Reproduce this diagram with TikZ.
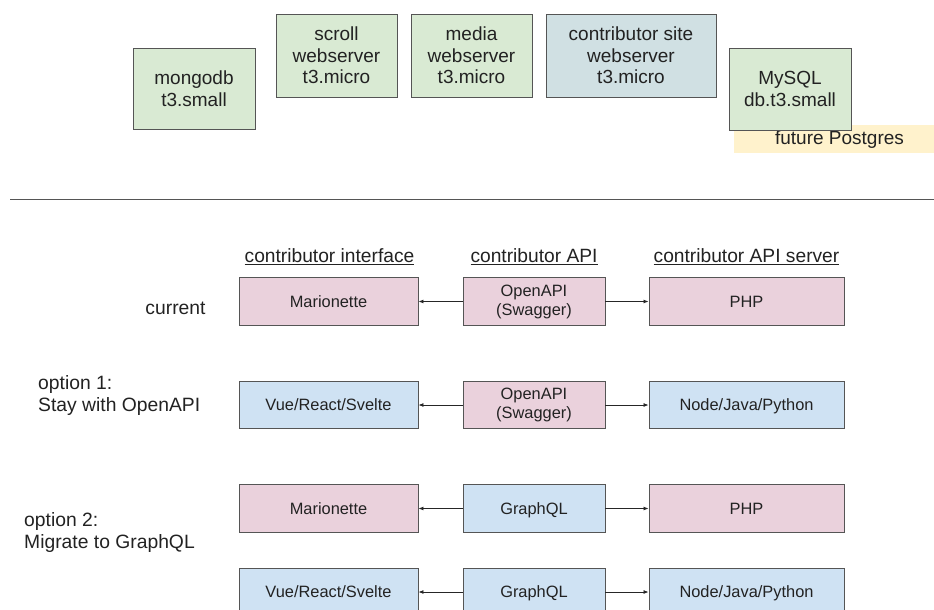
\documentclass[tikz,border=0pt]{standalone}
\usepackage{fontspec}
\setmainfont{Liberation Sans}
\usetikzlibrary{arrows.meta}
\definecolor{gfill}{HTML}{D9EAD3}
\definecolor{pfill}{HTML}{EAD1DC}
\definecolor{bfill}{HTML}{CFE2F3}
\definecolor{cfill}{HTML}{D0E0E3}
\definecolor{yfill}{HTML}{FFF2CC}
\definecolor{edge}{HTML}{555555}
\definecolor{txt}{HTML}{222222}
\tikzset{
  topbox/.style={draw=edge, line width=0.9pt, align=center, inner sep=0pt,
    font=\fontsize{19}{21.5}\selectfont, text=txt},
  lowbox/.style={draw=edge, line width=0.9pt, align=center, inner sep=0pt,
    minimum height=47.5pt, font=\fontsize{16.4}{19}\selectfont, text=txt},
  one/.style={text height=11.7pt, text depth=0pt},
  ifc/.style={lowbox, minimum width=179pt},
  api/.style={lowbox, minimum width=142pt},
  srv/.style={lowbox, minimum width=195pt},
  hdr/.style={font=\fontsize{19.2}{21}\selectfont, text=txt, inner sep=0pt},
  lbl/.style={font=\fontsize{19.3}{22}\selectfont, text=txt, inner sep=0pt, align=left},
  conn/.style={draw=black!85, line width=0.8pt, -{Latex[length=5pt,width=4pt]}}
}
\begin{document}
\begin{tikzpicture}[x=1pt,y=-1pt]
\useasboundingbox (0,0) rectangle (934,610);
\clip (0,0) rectangle (934,610);
% top row
\node[topbox, fill=gfill, minimum width=122pt, minimum height=81pt] (mongo) at (194,88.5) {mongodb\\t3.small};
\node[topbox, fill=gfill, minimum width=121pt, minimum height=83pt] (scroll) at (336.5,55.5) {scroll\\webserver\\t3.micro};
\node[topbox, fill=gfill, minimum width=121pt, minimum height=83pt] (media) at (471.5,55.5) {media\\webserver\\t3.micro};
\node[topbox, fill=cfill, minimum width=170pt, minimum height=83pt] (site) at (631,55.5) {contributor site\\webserver\\t3.micro};
\node[fill=yfill, minimum width=200pt, minimum height=28pt, inner sep=0pt, anchor=north west] (pgbg) at (734,125) {};
\node[topbox, draw=none, anchor=center] (pgtxt) at (839.5,140) {future Postgres};
\node[topbox, fill=gfill, minimum width=122pt, minimum height=82pt] (mysql) at (790,89) {MySQL\\db.t3.small};
% separator
\coordinate (sepl) at (10,199);
\coordinate (sepr) at (934,199);
\draw[edge, line width=1pt] (sepl) -- (sepr);
% headers
\node[hdr] (h1) at (329.5,257) {\underline{contributor interface}};
\node[hdr] (h2) at (534,257) {\underline{contributor API}};
\node[hdr] (h3) at (746.5,257) {\underline{contributor API server}};
% labels
\node[lbl] (lcur) at (175.5,308) {current};
\node[lbl, anchor=west] (lo1) at (38,396) {option 1:\\Stay with OpenAPI};
\node[lbl, anchor=west] (lo2) at (24,533) {option 2:\\Migrate to GraphQL};
% row 1
\node[ifc, one, fill=pfill] (i1) at (328.5,301.5) {Marionette};
\node[api, fill=pfill] (a1) at (534,301.5) {OpenAPI\\(Swagger)};
\node[srv, one, fill=pfill] (s1) at (746.5,301.5) {PHP};
% row 2
\node[ifc, one, fill=bfill] (i2) at (328.5,405) {Vue/React/Svelte};
\node[api, fill=pfill] (a2) at (534,405) {OpenAPI\\(Swagger)};
\node[srv, one, fill=bfill] (s2) at (746.5,405) {Node/Java/Python};
% row 3
\node[ifc, one, fill=pfill] (i3) at (328.5,508.5) {Marionette};
\node[api, one, fill=bfill] (a3) at (534,508.5) {GraphQL};
\node[srv, one, fill=pfill] (s3) at (746.5,508.5) {PHP};
% row 4
\node[ifc, one, fill=bfill] (i4) at (328.5,592) {Vue/React/Svelte};
\node[api, one, fill=bfill] (a4) at (534,592) {GraphQL};
\node[srv, one, fill=bfill] (s4) at (746.5,592) {Node/Java/Python};
% connectors
\foreach \r in {1,2,3,4} {
  \draw[conn] (a\r.west) -- (i\r.east);
  \draw[conn] (a\r.east) -- (s\r.west);
}
\end{tikzpicture}
\end{document}
